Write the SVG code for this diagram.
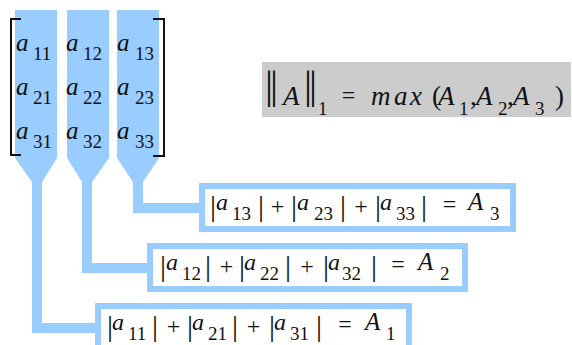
<svg xmlns="http://www.w3.org/2000/svg" width="572" height="345" viewBox="0 0 572 345" font-family="'Liberation Serif', 'DejaVu Serif', 'Times New Roman', serif">
<style>
.conn{fill:#99CCFF;stroke:none}
.box{fill:#FFFFFF;stroke:#99CCFF;stroke-width:6}
.gray{fill:#CCCCCC}
.brk{fill:none;stroke:#111;stroke-width:2}
text{fill:#111}
.v{font-style:italic;font-size:25px}
.vb{font-style:italic;font-size:24px}
.vA{font-style:italic;font-size:25px}
.sub{font-size:19px}
.bar{font-size:30px;text-anchor:middle}
.op{font-size:24px;text-anchor:middle}
.big{font-size:27px}
.it{font-style:italic}
.bigi{font-size:27px;font-style:italic}
.dbar{font-size:40px}
</style>
<rect width="572" height="345" fill="#FFFFFF"/>
<g id="connectors">
<path class="conn" d="M15,10 H57 V158 L42,182 V323 H100 V333 H32 V182 L15,158 Z"/>
<path class="conn" d="M67,10 H109 V158 L92,182 V263 H152 V273 H82 V182 L67,158 Z"/>
<path class="conn" d="M117,10 H159 V158 L143,182 V203 H204 V213 H133 V182 L117,158 Z"/>
</g>
<g id="matrix">
<path class="brk" d="M21,19 H11 V155 H21"/>
<path class="brk" d="M153,19 H164 V156 H153"/>
<text class="v" x="16" y="51">a</text><text class="sub" x="33" y="60">11</text>
<text class="v" x="66" y="51">a</text><text class="sub" x="83" y="60">12</text>
<text class="v" x="117" y="51">a</text><text class="sub" x="135" y="60">13</text>
<text class="v" x="16" y="95">a</text><text class="sub" x="33" y="104">21</text>
<text class="v" x="66" y="95">a</text><text class="sub" x="83" y="104">22</text>
<text class="v" x="117" y="95">a</text><text class="sub" x="135" y="104">23</text>
<text class="v" x="16" y="139">a</text><text class="sub" x="33" y="148">31</text>
<text class="v" x="66" y="139">a</text><text class="sub" x="83" y="148">32</text>
<text class="v" x="117" y="139">a</text><text class="sub" x="135" y="148">33</text>
</g>
<g id="norm">
<rect class="gray" x="262" y="62" width="309" height="55"/>
<text class="dbar" x="265 270" y="98">||</text>
<text class="bigi" x="283" y="105">A</text>
<text class="dbar" x="304 309" y="98">||</text>
<text class="sub" x="318" y="115">1</text>
<text class="op" x="348.5" y="103">=</text>
<text class="bigi" x="371 394 410" y="105">max</text>
<text class="big" x="432" y="105">(<tspan class="it" x="438">A</tspan></text><text class="sub" x="459" y="115">1</text>
<text class="big" x="470" y="105">,<tspan class="it" x="476">A</tspan></text><text class="sub" x="498" y="115">2</text>
<text class="big" x="507" y="105">,<tspan class="it" x="513">A</tspan></text><text class="sub" x="535" y="115">3</text>
<text class="big" x="555" y="105">)</text>
</g>
<g id="col3-sum">
<rect class="box" x="202" y="186" width="311" height="43"/>
<text class="bar" x="213" y="216">|</text>
<text class="vb" x="216" y="210">a</text><text class="sub" x="232" y="220">13</text>
<text class="bar" x="261" y="216">|</text>
<text class="op" x="277.5" y="214">+</text>
<text class="bar" x="294" y="216">|</text>
<text class="vb" x="297" y="210">a</text><text class="sub" x="314" y="220">23</text>
<text class="bar" x="343" y="216">|</text>
<text class="op" x="361" y="214">+</text>
<text class="bar" x="378" y="216">|</text>
<text class="vb" x="380" y="210">a</text><text class="sub" x="396" y="220">33</text>
<text class="bar" x="424" y="216">|</text>
<text class="op" x="449.5" y="212">=</text>
<text class="vA" x="468" y="210">A</text><text class="sub" x="490" y="220">3</text>
</g>
<g id="col2-sum">
<rect class="box" x="150" y="246" width="315" height="43"/>
<text class="bar" x="163" y="276">|</text>
<text class="vb" x="166" y="270">a</text><text class="sub" x="182" y="280">12</text>
<text class="bar" x="208" y="276">|</text>
<text class="op" x="226.5" y="274">+</text>
<text class="bar" x="242" y="276">|</text>
<text class="vb" x="244" y="270">a</text><text class="sub" x="260" y="280">22</text>
<text class="bar" x="288" y="276">|</text>
<text class="op" x="307" y="274">+</text>
<text class="bar" x="326" y="276">|</text>
<text class="vb" x="328" y="270">a</text><text class="sub" x="342" y="280">32</text>
<text class="bar" x="374" y="276">|</text>
<text class="op" x="398" y="272">=</text>
<text class="vA" x="418" y="270">A</text><text class="sub" x="440" y="280">2</text>
</g>
<g id="col1-sum">
<rect class="box" x="98" y="306" width="311" height="43"/>
<text class="bar" x="110" y="336">|</text>
<text class="vb" x="112" y="330">a</text><text class="sub" x="128" y="340">11</text>
<text class="bar" x="155" y="336">|</text>
<text class="op" x="173.5" y="334">+</text>
<text class="bar" x="190" y="336">|</text>
<text class="vb" x="192" y="330">a</text><text class="sub" x="208" y="340">21</text>
<text class="bar" x="235" y="336">|</text>
<text class="op" x="253.5" y="334">+</text>
<text class="bar" x="272" y="336">|</text>
<text class="vb" x="274" y="330">a</text><text class="sub" x="290" y="340">31</text>
<text class="bar" x="319" y="336">|</text>
<text class="op" x="345" y="332">=</text>
<text class="vA" x="365" y="330">A</text><text class="sub" x="386" y="340">1</text>
</g>
</svg>
